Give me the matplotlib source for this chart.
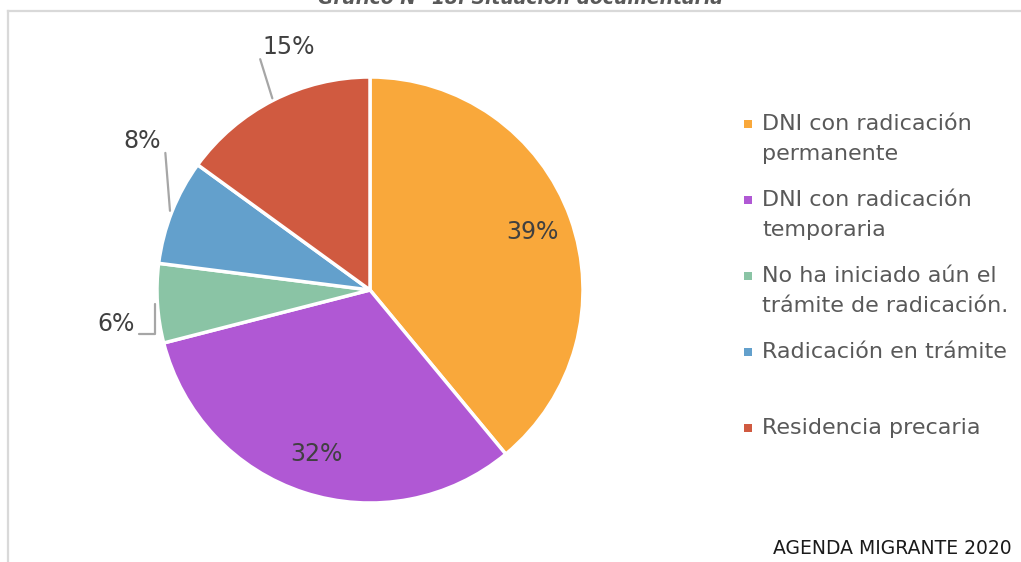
import matplotlib.pyplot as plt
from matplotlib.patches import Rectangle
import numpy as np

# Data
categories = [
    "DNI con radicación\npermanente",
    "DNI con radicación\ntemporaria",
    "No ha iniciado aún el\ntrámite de radicación.",
    "Radicación en trámite",
    "Residencia precaria",
]
values = [39, 32, 6, 8, 15]
colors = ["#F9A83B", "#B058D4", "#8AC4A5", "#63A0CC", "#D05A40"]

W, H = 1021, 562
fig = plt.figure(figsize=(W / 100, H / 100), dpi=100)

# frame lines (top and left) like the cropped document box
fig.add_artist(plt.Line2D([8 / W, 1], [1 - 11 / H] * 2, color="#d9d9d9", lw=1.6))
fig.add_artist(plt.Line2D([8 / W] * 2, [0, 1 - 11 / H], color="#d9d9d9", lw=1.6))

# title, cut off at the top edge as in the source
fig.text(0.51, 1 - 4 / H, "Gráfico N° 18. Situación documentaria",
         ha="center", va="baseline", fontsize=13.5, fontweight="bold",
         fontstyle="italic", color="#595959")

# pie axes: center (370, 290) px, radius 213 px
side = 500
cx, cy, r = 370, 290, 213
ax = fig.add_axes([(cx - side / 2) / W, 1 - (cy + side / 2) / H, side / W, side / H])

wedges, _ = ax.pie(values, colors=colors, startangle=90, counterclock=False,
                   radius=1, wedgeprops=dict(edgecolor="white", linewidth=2.5))
lim = side / 2 / r
ax.set_xlim(-lim, lim)
ax.set_ylim(-lim, lim)
ax.set_aspect("equal")
ax.axis("off")

txt_color = "#404040"
line_color = "#a6a6a6"
for w, v in zip(wedges, values):
    mid = np.deg2rad((w.theta1 + w.theta2) / 2)
    lab = f"{v}%"
    if v >= 20:
        rr = 0.81
        ax.text(rr * np.cos(mid), rr * np.sin(mid), lab, ha="center", va="center",
                fontsize=17, color=txt_color)
    else:
        edge = (1.01 * np.cos(mid), 1.01 * np.sin(mid))
        if v == 15:
            pos, rel, cs = (-0.38, 1.14), (-0.05, 0.0), "arc3"
        elif v == 8:
            pos, rel, cs = (-1.07, 0.70), (1.12, 0.0), "arc3"
        else:
            pos, rel, cs = (-1.19, -0.16), (1.1, 0.1), "angle,angleA=0,angleB=90"
        ax.annotate(lab, xy=edge, xytext=pos, ha="center", va="center",
                    fontsize=17, color=txt_color,
                    arrowprops=dict(arrowstyle="-", color=line_color, lw=1.6,
                                    shrinkA=0, shrinkB=0, patchA=None,
                                    relpos=rel, connectionstyle=cs))

# legend, drawn as text entries with square markers
leg_x, text_x = 748, 762
y0, step = 124, 76
for i, (lab, c) in enumerate(zip(categories, colors)):
    y = y0 + i * step
    fig.add_artist(Rectangle(((leg_x - 4) / W, 1 - (y + 4) / H), 8 / W, 8 / H,
                             facecolor=c, edgecolor="none"))
    fig.text(text_x / W, 1 - (y - 10) / H, lab, ha="left", va="top",
             fontsize=16, color="#595959", linespacing=1.62)

fig.text(1012 / W, 1 - 548 / H, "AGENDA MIGRANTE 2020", ha="right", va="center",
         fontsize=13.5, color="#1a1a1a")

fig.savefig("out.png", dpi=100, facecolor="white")
